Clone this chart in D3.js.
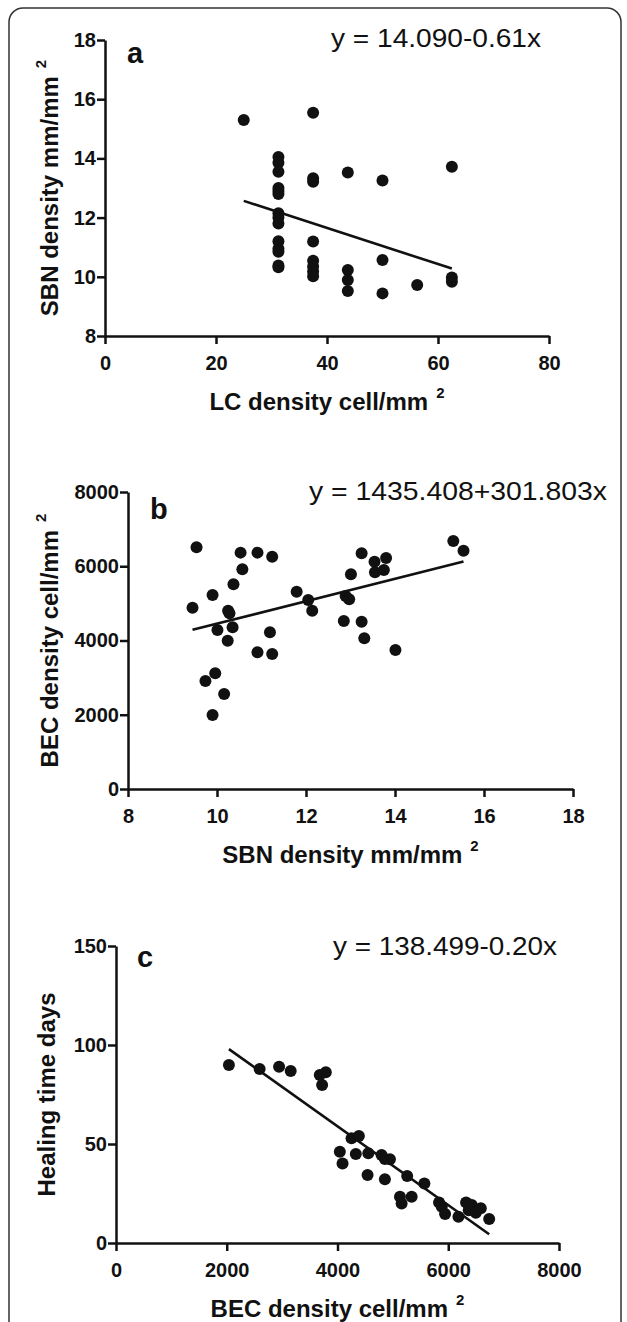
<!DOCTYPE html>
<html>
<head>
<meta charset="utf-8">
<script src="https://cdnjs.cloudflare.com/ajax/libs/d3/7.8.5/d3.min.js"></script>
<style>
body { margin: 0; background: #fff; }
svg { display: block; font-family: "Liberation Sans", Arial, sans-serif; }
.axis path, .axis line { stroke: #111; stroke-width: 2.5; }
.axis text { font-size: 20px; font-weight: bold; fill: #111; font-family: "Liberation Sans", Arial, sans-serif; }
.title { font-size: 24px; font-weight: bold; fill: #111; }
.eq { font-size: 25.5px; fill: #111; }
.letter { font-size: 29px; font-weight: bold; fill: #111; }
</style>
</head>
<body>
<script>
// panel a : LC density vs SBN density
const lcA  = [25, 31.25, 31.25, 31.25, 31.25, 31.25, 31.25, 31.25, 31.25, 31.25, 31.25, 31.25, 31.25, 31.25, 31.25,
              37.5, 37.5, 37.5, 37.5, 37.5, 37.5, 37.5, 37.5, 43.75, 43.75, 43.75, 43.75, 50, 50, 50, 56.25, 62.5, 62.5, 62.5];
const sbnA = [15.30, 14.05, 13.85, 13.55, 13.0, 12.9, 12.8, 12.15, 12.0, 11.8, 11.2, 10.95, 10.85, 10.38, 10.32,
              15.54, 13.33, 13.21, 11.19, 10.54, 10.35, 10.18, 10.02, 13.52, 10.23, 9.89, 9.52, 13.25, 10.57, 9.44, 9.72, 13.72, 9.98, 9.83];

// panel b : SBN density vs BEC density
const sbnB = [9.54, 9.45, 9.90, 10.01, 9.74, 9.96, 10.16, 9.90, 10.24, 10.25, 10.28, 10.35, 10.37, 10.53, 10.57, 10.91, 11.24, 11.19, 10.91,
              11.24, 11.79, 12.05, 12.14, 12.85, 12.89, 12.97, 13.01, 13.25, 13.25, 13.31, 13.54, 13.55, 13.75, 13.80, 14.01, 15.31, 15.54];
const becB = [6511, 4885, 5226, 4283, 2909, 3116, 2559, 1994, 3996, 4804, 4733, 4356, 5514, 6367, 5918, 6367, 6259, 4221, 3682,
              3637, 5316, 5091, 4804, 4526, 5199, 5109, 5783, 6349, 4508, 4059, 6124, 5837, 5900, 6223, 3745, 6681, 6420];

// panel c : BEC density vs healing time
const becC  = [2039, 2594, 2945, 3155, 3680, 3789, 3722, 4042, 4091, 4254, 4386, 4331, 4556, 4543, 4796, 4856, 4947, 4856,
               5128, 5158, 5258, 5339, 5569, 5834, 5883, 5943, 6184, 6322, 6425, 6498, 6588, 6739, 6370];
const healC = [89.9, 87.9, 89.0, 86.9, 84.8, 86.2, 79.8, 46.1, 40.2, 52.9, 54.0, 44.9, 45.3, 34.3, 44.4, 42.4, 42.3, 32.2,
               23.4, 20.0, 33.8, 23.4, 30.1, 20.4, 18.3, 14.6, 13.3, 20.4, 19.2, 15.3, 17.5, 12.1, 16.5];

// fitted lines (as drawn) and printed equations
const fitIntercept = [14.090, 1435.408, 138.499];
const fitSlope     = [-0.061, 301.803, -0.0199];
const equations    = ["y = 14.090-0.61x", "y = 1435.408+301.803x", "y = 138.499-0.20x"];
const letters      = ["a", "b", "c"];

const xTicksA = [0, 20, 40, 60, 80],        yTicksA = [8, 10, 12, 14, 16, 18];
const xTicksB = [8, 10, 12, 14, 16, 18],    yTicksB = [0, 2000, 4000, 6000, 8000];
const xTicksC = [0, 2000, 4000, 6000, 8000], yTicksC = [0, 50, 100, 150];

const W = 627, H = 1322;
const svg = d3.select("body").append("svg").attr("width", W).attr("height", H);

// frame
svg.append("path")
    .attr("d", "M9,1340 V22 A14,14 0 0 1 23,8 H607 A14,14 0 0 1 621,22 V1340")
    .attr("fill", "none")
    .attr("stroke", "#333")
    .attr("stroke-width", 1.5);

var panels = [
    { xs: lcA, ys: sbnA, left: 105, right: 549, top: 40, bottom: 336,
      xd: [0, 80], yd: [8, 18], xt: xTicksA, yt: yTicksA,
      xTitle: "LC density cell/mm", xSup: true, yTitle: "SBN density mm/mm", ySup: true,
      yTitleX: 58, letterPos: [127, 63], eqPos: [331, 47], eqW: 210 },
    { xs: sbnB, ys: becB, left: 128, right: 573, top: 492, bottom: 789,
      xd: [8, 18], yd: [0, 8000], xt: xTicksB, yt: yTicksB,
      xTitle: "SBN density mm/mm", xSup: true, yTitle: "BEC density cell/mm", ySup: true,
      yTitleX: 58, letterPos: [150, 519], eqPos: [309, 500], eqW: 298 },
    { xs: becC, ys: healC, left: 116, right: 559, top: 946, bottom: 1243,
      xd: [0, 8000], yd: [0, 150], xt: xTicksC, yt: yTicksC,
      xTitle: "BEC density cell/mm", xSup: true, yTitle: "Healing time days", ySup: false,
      yTitleX: 55, letterPos: [137, 967], eqPos: [333, 955], eqW: 224 }
];

var addTitle = function(sel, label, sup) {
    sel.text(label);
    if (sup) {
        sel.append("tspan").attr("dx", 8).attr("dy", -12).style("font-size", "15px").text("2");
    }
};

panels.forEach(function(p, i) {
    var x = d3.scaleLinear().domain(p.xd).range([p.left, p.right]);
    var y = d3.scaleLinear().domain(p.yd).range([p.bottom, p.top]);
    var g = svg.append("g");

    g.append("g").attr("class", "axis")
        .attr("transform", "translate(0," + p.bottom + ")")
        .call(d3.axisBottom(x).tickValues(p.xt).tickSize(8).tickSizeOuter(0).tickPadding(12).tickFormat(d3.format("d")));
    g.append("g").attr("class", "axis")
        .attr("transform", "translate(" + p.left + ",0)")
        .call(d3.axisLeft(y).tickValues(p.yt).tickSize(8).tickSizeOuter(0).tickPadding(1).tickFormat(d3.format("d")));

    var pts = p.xs.map((d, j) => [d, p.ys[j]]);
    g.selectAll("circle").data(pts)
        .enter().append("circle")
        .attr("cx", (d) => x(d[0]))
        .attr("cy", (d) => y(d[1]))
        .attr("r", 6)
        .attr("fill", "#111");

    var ext = d3.extent(p.xs);
    var fit = ext.map(v => [v, fitIntercept[i] + fitSlope[i] * v]);
    g.append("path")
        .attr("d", d3.line().x(d => x(d[0])).y(d => y(d[1]))(fit))
        .attr("stroke", "#111")
        .attr("stroke-width", 2.6)
        .attr("fill", "none");

    g.append("text").attr("class", "letter")
        .attr("x", p.letterPos[0]).attr("y", p.letterPos[1])
        .text(letters[i]);
    g.append("text").attr("class", "eq")
        .attr("x", p.eqPos[0]).attr("y", p.eqPos[1])
        .attr("textLength", p.eqW)
        .attr("lengthAdjust", "spacingAndGlyphs")
        .text(equations[i]);

    var xt = g.append("text").attr("class", "title")
        .attr("text-anchor", "middle")
        .attr("x", (p.left + p.right) / 2)
        .attr("y", p.bottom + 74);
    addTitle(xt, p.xTitle, p.xSup);

    var yt = g.append("text").attr("class", "title")
        .attr("text-anchor", "middle")
        .attr("transform", "translate(" + p.yTitleX + "," + (p.top + p.bottom) / 2 + ") rotate(-90)");
    addTitle(yt, p.yTitle, p.ySup);
});
</script>
</body>
</html>
